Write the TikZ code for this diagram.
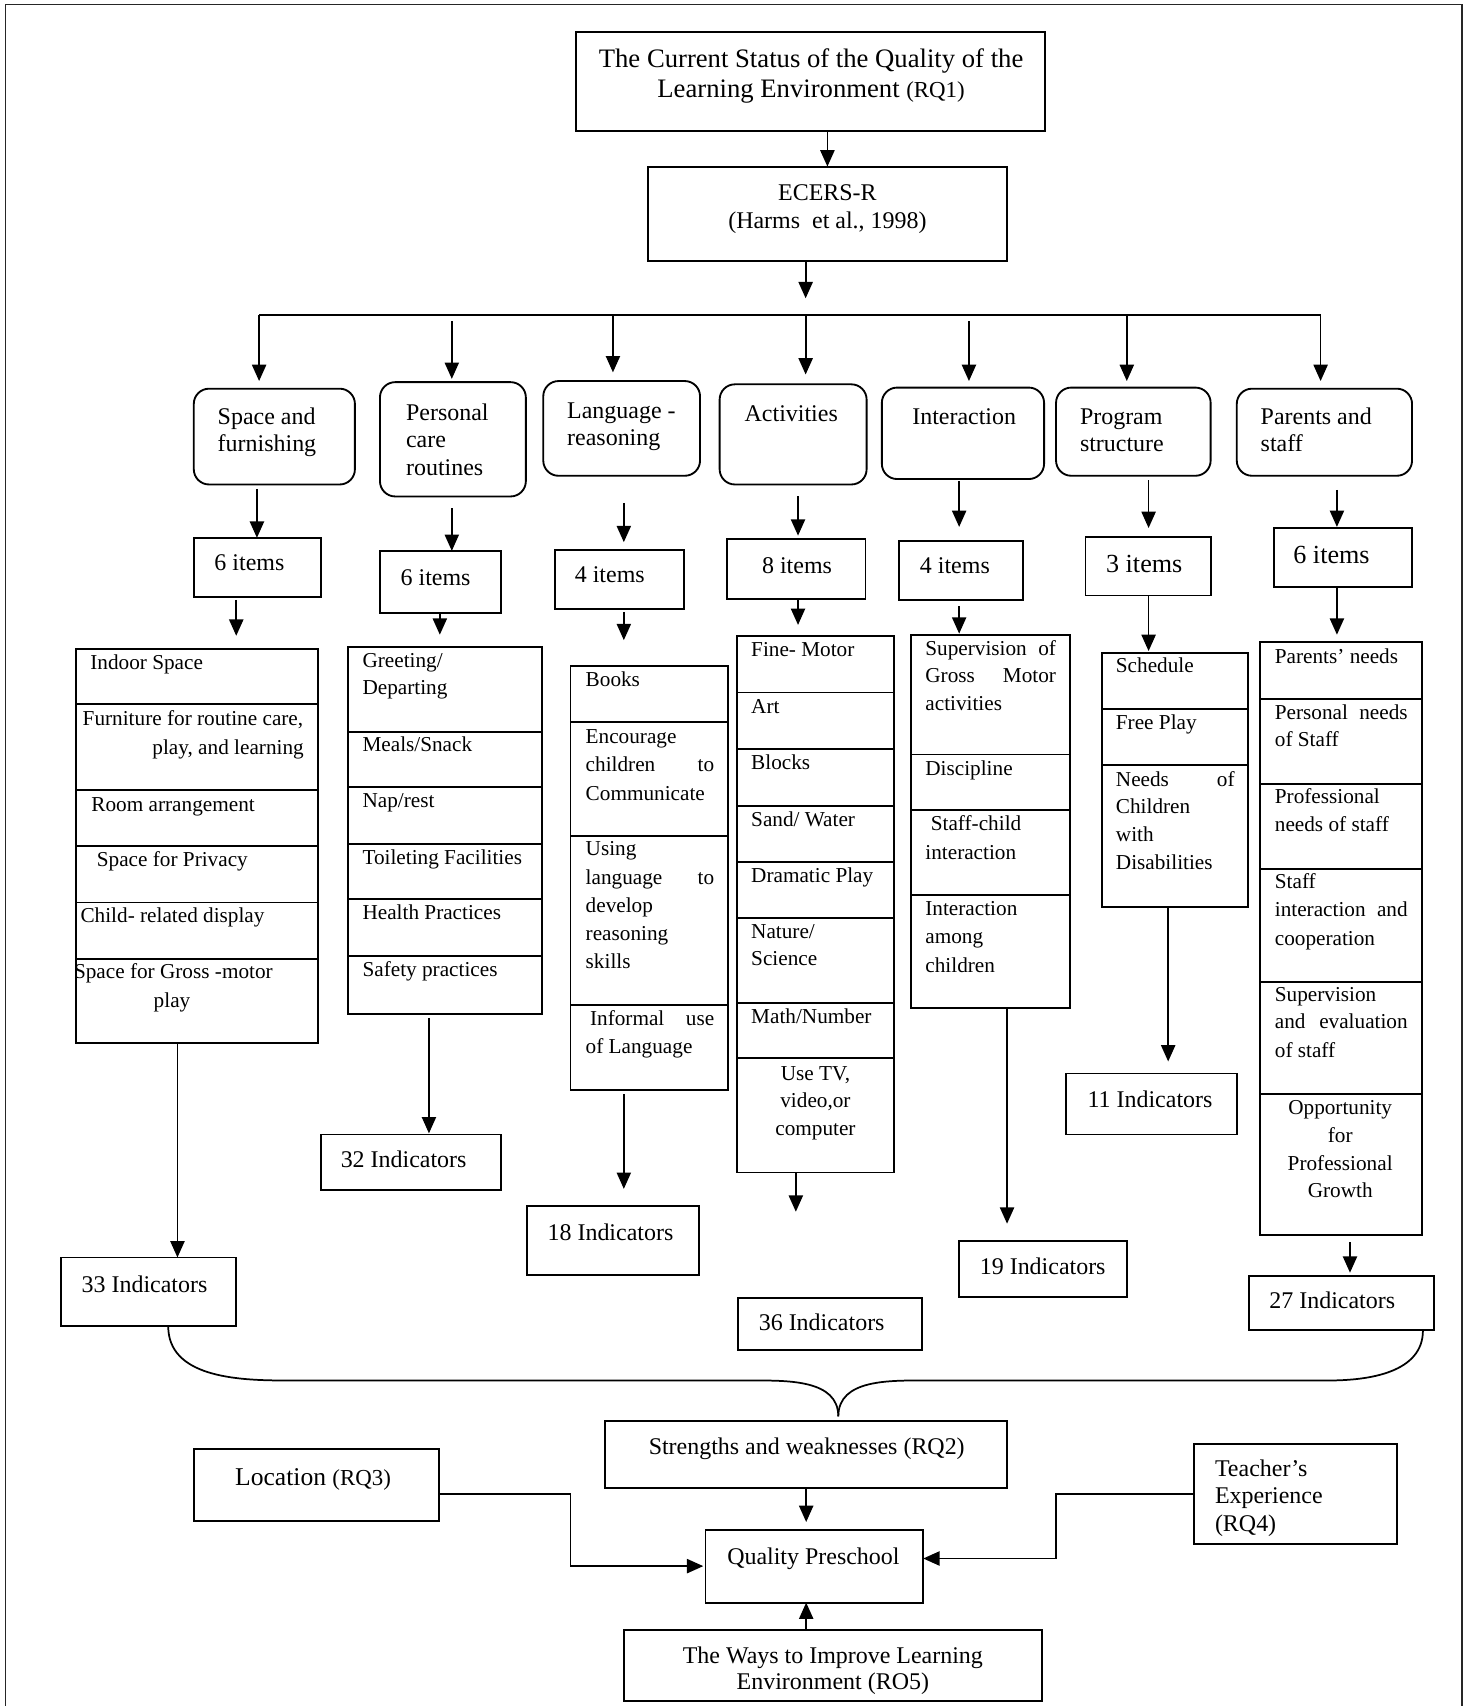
\documentclass[tikz,border=0pt]{standalone}
\usepackage{fontspec}
\setmainfont{Liberation Serif}
\usetikzlibrary{arrows.meta,fit,calc}
\newcommand\fL{\fontsize{19.5}{26}\selectfont}
\newcommand\fM{\fontsize{22}{26}\selectfont}
\newcommand\fT{\fontsize{24.5}{28}\selectfont}
\newcommand\fB{\fontsize{24}{28}\selectfont}
\newcommand\fS{\fontsize{21}{26}\selectfont}
\newcommand\mkbox[5]{\node[bx, fit={(#2,#3) (#4,#5)}] (#1) {};}
\newcommand\mkrbox[5]{\node[bx, rounded corners=14pt, fit={(#2,#3) (#4,#5)}] (#1) {};}
\newcommand\txl[5]{\node[tx, anchor=base west, font=#4] (#1) at (#2,#3) {#5};}
\newcommand\txc[5]{\node[tx, anchor=base, font=#4] (#1) at (#2,#3) {#5};}
\newcommand\txr[5]{\node[tx, anchor=base east, font=#4] (#1) at (#2,#3) {#5};}
\newcommand\txj[6]{\node[tx, anchor=base west, font=#5] (#1) at (#2,#3) {\makebox[#4pt][s]{#6}};}
\begin{document}
\begin{tikzpicture}[x=1pt,y=-1pt,
  bx/.style={draw,line width=1.7pt,inner sep=0pt,outer sep=0pt},
  tx/.style={inner sep=0pt,outer sep=0pt},
  ln/.style={line width=1.6pt},
  arr/.style={line width=1.6pt,-{Triangle[length=15pt,width=13pt]}}]
\useasboundingbox (0,0) rectangle (1352,1567);
\draw[line width=1.4pt, black!85] (5,1580) -- (5,4) -- (1343,4) -- (1343,1580);

% ---------- top ----------
\mkbox{title}{529}{29}{960}{120}
\txc{t0a}{745}{62}{\fT}{The Current Status of the Quality of the}
\txc{t0b}{745}{90}{\fT}{Learning Environment {\fS(RQ1)}}
\mkbox{ecers}{595}{153}{925}{240}
\txc{t1a}{760}{184}{\fM}{ECERS-R}
\txc{t1b}{760}{210}{\fM}{(Harms\ \ et al., 1998)}

% ---------- categories ----------
\mkrbox{cat1}{178}{357}{326}{445}
\mkrbox{cat2}{349}{351}{483}{456}
\mkrbox{cat3}{499}{350}{643}{437}
\mkrbox{cat4}{661}{353}{796}{445}
\mkrbox{cat5}{810}{356}{959}{440}
\mkrbox{cat6}{970}{356}{1112}{437}
\mkrbox{cat7}{1136}{357}{1297}{437}
\txl{c1a}{200}{390}{\fM}{Space and}
\txl{c1b}{200}{415}{\fM}{furnishing}
\txl{c2a}{373}{386}{\fM}{Personal}
\txl{c2b}{373}{411}{\fM}{care}
\txl{c2c}{373}{437}{\fM}{routines}
\txl{c3a}{521}{384}{\fM}{Language -}
\txl{c3b}{521}{409}{\fM}{reasoning}
\txl{c4a}{684}{387}{\fM}{Activities}
\txl{c5a}{838}{390}{\fM}{Interaction}
\txl{c6a}{992}{390}{\fM}{Program}
\txl{c6b}{992}{415}{\fM}{structure}
\txl{c7a}{1158}{390}{\fM}{Parents and}
\txl{c7b}{1158}{415}{\fM}{staff}

% ---------- items ----------
\mkbox{it1}{178}{494}{295}{548}
\mkbox{it2}{349}{506}{460}{563}
\mkbox{it3}{510}{505}{628}{559}
\mkbox{it4}{668}{495}{795}{550}
\mkbox{it5}{826}{497}{940}{551}
\mkbox{it6}{997}{493}{1112}{547}
\mkbox{it7}{1170}{485}{1297}{539}
\txl{n1}{197}{524}{\fM}{6 items}
\txl{n2}{368}{538}{\fM}{6 items}
\txl{n3}{528}{535}{\fM}{4 items}
\txl{n4}{700}{527}{\fM}{8 items}
\txl{n5}{845}{527}{\fM}{4 items}
\txl{n6}{1016}{526}{\fB}{3 items}
\txl{n7}{1188}{518}{\fB}{6 items}

% ---------- list 1 ----------
\mkbox{r11}{70}{596}{292}{647}
\mkbox{r12}{70}{647}{292}{726}
\mkbox{r13}{70}{726}{292}{777}
\mkbox{r14}{70}{777}{292}{829}
\mkbox{r15}{70}{829}{292}{881}
\mkbox{r16}{70}{881}{292}{958}
\txl{a1}{83}{615}{\fL}{Indoor Space}
\txl{a2}{76}{666}{\fL}{Furniture for routine care,}
\txr{a3}{279}{693}{\fL}{play, and learning}
\txl{a4}{84}{745}{\fL}{Room arrangement}
\txl{a5}{89}{796}{\fL}{Space for Privacy}
\txl{a6}{74}{847}{\fL}{Child- related display}
\txl{a7}{68}{899}{\fL}{Space for Gross -motor}
\txc{a8}{158}{925}{\fL}{play}

% ---------- list 2 ----------
\mkbox{r21}{320}{594}{498}{672}
\mkbox{r22}{320}{672}{498}{723}
\mkbox{r23}{320}{723}{498}{775}
\mkbox{r24}{320}{775}{498}{826}
\mkbox{r25}{320}{826}{498}{878}
\mkbox{r26}{320}{878}{498}{931}
\txl{b1}{333}{613}{\fL}{Greeting/}
\txl{b2}{333}{638}{\fL}{Departing}
\txl{b3}{333}{690}{\fL}{Meals/Snack}
\txl{b4}{333}{742}{\fL}{Nap/rest}
\txl{b5}{333}{794}{\fL}{Toileting Facilities}
\txl{b6}{333}{845}{\fL}{Health Practices}
\txl{b7}{333}{897}{\fL}{Safety practices}

% ---------- list 3 ----------
\mkbox{r31}{524}{612}{669}{663}
\mkbox{r32}{524}{663}{669}{768}
\mkbox{r33}{524}{768}{669}{923}
\mkbox{r34}{524}{923}{669}{1001}
\txl{d1}{538}{631}{\fL}{Books}
\txl{d2}{538}{683}{\fL}{Encourage}
\txj{d3}{538}{709}{118}{\fL}{children\hfill to}
\txl{d4}{538}{735}{\fL}{Communicate}
\txl{d5}{538}{786}{\fL}{Using}
\txj{d6}{538}{812}{118}{\fL}{language\hfill to}
\txl{d7}{538}{838}{\fL}{develop}
\txl{d8}{538}{864}{\fL}{reasoning}
\txl{d9}{538}{890}{\fL}{skills}
\txj{d10}{542}{942}{114}{\fL}{Informal\hfill use}
\txl{d11}{538}{968}{\fL}{of Language}

% ---------- list 4 ----------
\mkbox{r41}{677}{584}{821}{636}
\mkbox{r42}{677}{636}{821}{688}
\mkbox{r43}{677}{688}{821}{740}
\mkbox{r44}{677}{740}{821}{792}
\mkbox{r45}{677}{792}{821}{843}
\mkbox{r46}{677}{843}{821}{921}
\mkbox{r47}{677}{921}{821}{972}
\mkbox{r48}{677}{972}{821}{1077}
\txl{e1}{690}{603}{\fL}{Fine- Motor}
\txl{e2}{690}{655}{\fL}{Art}
\txl{e3}{690}{707}{\fL}{Blocks}
\txl{e4}{690}{759}{\fL}{Sand/ Water}
\txl{e5}{690}{811}{\fL}{Dramatic Play}
\txl{e6}{690}{862}{\fL}{Nature/}
\txl{e7}{690}{887}{\fL}{Science}
\txl{e8}{690}{940}{\fL}{Math/Number}
\txc{e9}{749}{992}{\fL}{Use TV,}
\txc{e10}{749}{1017}{\fL}{video,or}
\txc{e11}{749}{1043}{\fL}{computer}

% ---------- list 5 ----------
\mkbox{r51}{837}{583}{983}{693}
\mkbox{r52}{837}{693}{983}{744}
\mkbox{r53}{837}{744}{983}{822}
\mkbox{r54}{837}{822}{983}{926}
\txj{f1}{850}{602}{120}{\fL}{Supervision\hfill of}
\txj{f2}{850}{627}{120}{\fL}{Gross\hfill Motor}
\txl{f3}{850}{653}{\fL}{activities}
\txl{f4}{850}{712}{\fL}{Discipline}
\txl{f5}{855}{763}{\fL}{Staff-child}
\txl{f6}{850}{789}{\fL}{interaction}
\txl{f7}{850}{841}{\fL}{Interaction}
\txl{f8}{850}{867}{\fL}{among}
\txl{f9}{850}{893}{\fL}{children}

% ---------- list 6 ----------
\mkbox{r61}{1012}{600}{1146}{651}
\mkbox{r62}{1012}{651}{1146}{703}
\mkbox{r63}{1012}{703}{1146}{833}
\txl{g1}{1025}{618}{\fL}{Schedule}
\txl{g2}{1025}{670}{\fL}{Free Play}
\txj{g3}{1025}{722}{109}{\fL}{Needs\hfill of}
\txl{g4}{1025}{747}{\fL}{Children}
\txl{g5}{1025}{773}{\fL}{with}
\txl{g6}{1025}{799}{\fL}{Disabilities}

% ---------- list 7 ----------
\mkbox{r71}{1157}{590}{1306}{642}
\mkbox{r72}{1157}{642}{1306}{720}
\mkbox{r73}{1157}{720}{1306}{798}
\mkbox{r74}{1157}{798}{1306}{902}
\mkbox{r75}{1157}{902}{1306}{1005}
\mkbox{r76}{1157}{1005}{1306}{1134}
\txl{h1}{1171}{609}{\fL}{Parents’ needs}
\txj{h2}{1171}{661}{122}{\fL}{Personal\hfill needs}
\txl{h3}{1171}{686}{\fL}{of Staff}
\txl{h4}{1171}{738}{\fL}{Professional}
\txl{h5}{1171}{764}{\fL}{needs of staff}
\txl{h6}{1171}{816}{\fL}{Staff}
\txj{h7}{1171}{842}{122}{\fL}{interaction\hfill and}
\txl{h8}{1171}{868}{\fL}{cooperation}
\txl{h9}{1171}{920}{\fL}{Supervision}
\txj{h10}{1171}{945}{122}{\fL}{and\hfill evaluation}
\txl{h11}{1171}{971}{\fL}{of staff}
\txc{h12}{1231}{1024}{\fL}{Opportunity}
\txc{h13}{1231}{1049}{\fL}{for}
\txc{h14}{1231}{1075}{\fL}{Professional}
\txc{h15}{1231}{1100}{\fL}{Growth}

% ---------- indicators ----------
\mkbox{in1}{56}{1155}{217}{1218}
\mkbox{in2}{295}{1042}{460}{1093}
\mkbox{in3}{484}{1108}{642}{1171}
\mkbox{in4}{678}{1192}{847}{1240}
\mkbox{in5}{881}{1140}{1035}{1191}
\mkbox{in6}{979}{986}{1136}{1042}
\mkbox{in7}{1147}{1172}{1317}{1222}
\txl{m1}{75}{1187}{\fM}{33 Indicators}
\txl{m2}{313}{1072}{\fM}{32 Indicators}
\txl{m3}{503}{1139}{\fM}{18 Indicators}
\txl{m4}{697}{1222}{\fM}{36 Indicators}
\txl{m5}{900}{1171}{\fM}{19 Indicators}
\txl{m6}{999}{1017}{\fM}{11 Indicators}
\txl{m7}{1166}{1202}{\fM}{27 Indicators}

% ---------- bottom ----------
\mkbox{str}{556}{1305}{925}{1367}
\txc{s1}{741}{1336}{\fM}{Strengths and weaknesses (RQ2)}
\mkbox{qp}{648}{1405}{848}{1472}
\txl{q1}{668}{1437}{\fM}{Quality Preschool}
\mkbox{loc}{178}{1331}{403}{1397}
\txl{o1}{216}{1364}{\fontsize{23.5}{28}\selectfont}{Location {\fS(RQ3)}}
\mkbox{tch}{1097}{1326}{1283}{1418}
\txl{p1}{1116}{1356}{\fM}{Teacher’s}
\txl{p2}{1116}{1381}{\fM}{Experience}
\txl{p3}{1116}{1407}{\fM}{(RQ4)}
\mkbox{ways}{573}{1497}{957}{1562}
\txc{w1}{765}{1528}{\fM}{The Ways to Improve Learning}
\txc{w2}{765}{1552}{\fM}{Environment (RO5)}

% ---------- helper coordinates ----------
\coordinate (b1) at (238,289);
\coordinate (b2) at (415,289);
\coordinate (b3) at (563,289);
\coordinate (b4) at (740,289);
\coordinate (b5) at (890,289);
\coordinate (b6) at (1035,289);
\coordinate (b7) at (1213,289);
\coordinate (xa1) at (236,0);  \coordinate (xa2) at (415,0);
\coordinate (xa3) at (573,0);  \coordinate (xa4) at (733,0);
\coordinate (xa5) at (881,0);  \coordinate (xa6) at (1055,0);
\coordinate (xa7) at (1228,0);
\coordinate (xb1) at (217,0);  \coordinate (xb2) at (404,0);
\coordinate (xb3) at (573,0);  \coordinate (xb4) at (733,0);
\coordinate (xb5) at (881,0);  \coordinate (xb6) at (1055,0);
\coordinate (xb7) at (1228,0);
\coordinate (xc1) at (163,0);  \coordinate (xc2) at (394,0);
\coordinate (xc3) at (573,0);  \coordinate (xc4) at (731,0);
\coordinate (xc5) at (925,0);  \coordinate (xc6) at (1073,0);
\coordinate (xc7) at (1240,0);
\coordinate (brTip) at (770,1301);

% ---------- connectors ----------
\draw[arr] (title.south -| ecers.north) -- (ecers.north);
\draw[arr, shorten >=15pt] (ecers.south -| b4) -- (b4);
\draw[ln] (b1) -- (b7);
\foreach \i/\s/\e in {1/0pt/7pt, 2/6pt/3pt, 3/0pt/8pt, 4/0pt/9pt, 5/6pt/6pt, 6/0pt/6pt, 7/0pt/7pt}
  \draw[arr, shorten <=\s, shorten >=\e] (b\i) -- (cat\i.north -| b\i);
\foreach \i/\s/\e in {1/4pt/0pt, 2/11pt/0pt, 3/25pt/7pt, 4/11pt/3pt, 5/2pt/13pt, 6/4pt/8pt, 7/13pt/1pt}
  \draw[arr, shorten <=\s, shorten >=\e] (cat\i.south -| xa\i) -- (it\i.north -| xa\i);
\foreach \i/\s/\e in {1/3pt/12pt, 2/0pt/11pt, 3/3pt/24pt, 4/0pt/10pt, 5/6pt/1pt, 6/0pt/2pt, 7/0pt/7pt}
  \draw[arr, shorten <=\s, shorten >=\e] (it\i.south -| xb\i) -- (r\i1.north -| xb\i);
\foreach \i/\b/\s/\e in {1/6/0pt/0pt, 2/6/4pt/1pt, 3/4/4pt/16pt, 4/8/0pt/79pt, 5/4/0pt/16pt, 6/3/0pt/11pt, 7/6/7pt/3pt}
  \draw[arr, shorten <=\s, shorten >=\e] (r\i\b.south -| xc\i) -- (in\i.north -| xc\i);

% brace
\draw[ln] ([xshift=18pt]in1.south) to[out=-90,in=180] (262,1268) -- (690,1268) to[out=0,in=90] (brTip);
\draw[ln] ([xshift=75pt]in7.south) to[out=-90,in=0] (1220,1268) -- (852,1268) to[out=180,in=90] (brTip);

\draw[arr, shorten >=7pt] (str.south) -- (str.south |- qp.north);
\draw[arr, shorten >=2pt] ([yshift=-8pt]loc.east) -- ++(121,0) |- (qp.west);
\draw[arr] (tch.west) -- ++(-127,0) |- ([yshift=7pt]qp.east);
\draw[arr] (ways.north -| str.south) -- (qp.south -| str.south);
\end{tikzpicture}
\end{document}
